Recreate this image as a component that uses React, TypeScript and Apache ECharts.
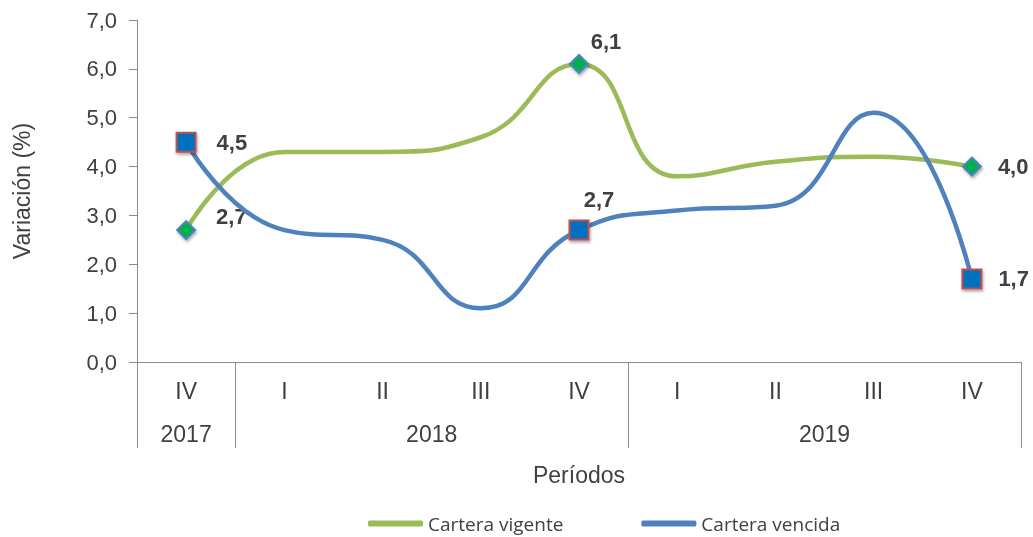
import React, { useEffect, useRef } from 'react';
import * as echarts from 'echarts';

const quarters = ['IV', 'I', 'II', 'III', 'IV', 'I', 'II', 'III', 'IV'];
const yearNames = ['2017', '2018', '2019'];
const quartersPerYear = [1, 4, 4];
const vigente = [2.7, 4.3, 4.3, 4.6, 6.1, 3.8, 4.1, 4.2, 4.0];
const vencida = [4.5, 2.7, 2.5, 1.1, 2.7, 3.1, 3.2, 5.1, 1.7];
const markedIdx = [0, 4, 8];

const TEXT = '#404040';
const AXIS = '#8c8c8c';
const FONT = '"Liberation Sans", Arial, sans-serif';

const fmt = (v: number) => v.toFixed(1).replace('.', ',');

export default function App() {
  const ref = useRef<HTMLDivElement>(null);
  useEffect(() => {
    const chart = echarts.init(ref.current!, null, { renderer: 'svg' });

    const bounds: number[] = [0];
    quartersPerYear.forEach((n) => bounds.push(bounds[bounds.length - 1] + n));
    const centers = yearNames.map((_, i) => (bounds[i] + bounds[i + 1]) / 2);

    const labelStyleV: Record<number, any> = {
      0: { position: 'right', distance: 20, offset: [0, -14] },
      4: { position: 'top', distance: 1, offset: [27, 0] },
      8: { position: 'right', distance: 16 },
    };
    const labelStyleB: Record<number, any> = {
      0: { position: 'right', distance: 20 },
      4: { position: 'top', distance: 9, offset: [20, 0] },
      8: { position: 'right', distance: 16 },
    };
    const shadow = {
      shadowBlur: 3,
      shadowColor: 'rgba(0,0,0,0.35)',
      shadowOffsetX: 1,
      shadowOffsetY: 2,
    };

    const buildData = (vals: number[], symbol: string, size: number, fill: string, border: string, ls: Record<number, any>) =>
      vals.map((v, i) =>
        markedIdx.includes(i)
          ? {
              value: v,
              symbol,
              symbolSize: size,
              itemStyle: { color: fill, borderColor: border, borderWidth: 2, ...shadow },
              label: {
                show: true,
                formatter: (p: any) => fmt(p.value),
                fontFamily: FONT,
                fontWeight: 'bold',
                fontSize: 22,
                color: TEXT,
                ...ls[i],
              },
            }
          : { value: v, symbol: 'none' }
      );

    chart.setOption({
      animation: false,
      grid: { left: 137, right: 12, top: 20, bottom: 175, containLabel: false },
      legend: {
        left: 368,
        top: 514,
        itemWidth: 55,
        itemHeight: 6,
        itemGap: 78,
        icon: 'roundRect',
        padding: 0,
        textStyle: { fontFamily: '"Open Sans", sans-serif', fontSize: 19, color: TEXT },
        data: ['Cartera vigente', 'Cartera vencida'],
      },
      xAxis: [
        {
          type: 'category',
          data: quarters,
          boundaryGap: true,
          axisLine: { lineStyle: { color: AXIS, width: 1 } },
          axisTick: { show: false },
          axisLabel: { margin: 17, fontFamily: FONT, fontSize: 23, color: TEXT, interval: 0 },
        },
        {
          type: 'value',
          min: 0,
          max: bounds[bounds.length - 1],
          position: 'bottom',
          axisLine: { show: false },
          splitLine: { show: false },
          axisTick: {
            show: true,
            customValues: bounds,
            length: 86,
            lineStyle: { color: AXIS, width: 1 },
          },
          axisLabel: {
            show: true,
            customValues: centers,
            margin: 60,
            fontFamily: FONT,
            fontSize: 23,
            color: TEXT,
            formatter: (v: number) => {
              const k = centers.findIndex((c) => Math.abs(c - v) < 1e-6);
              return k >= 0 ? yearNames[k] : '';
            },
          },
          name: 'Períodos',
          nameLocation: 'middle',
          nameGap: 101,
          nameTextStyle: { fontFamily: FONT, fontSize: 23, color: TEXT },
        },
      ],
      yAxis: {
        type: 'value',
        min: 0,
        max: 7,
        interval: 1,
        name: 'Variación (%)',
        nameLocation: 'middle',
        nameGap: 104,
        nameTextStyle: { fontFamily: FONT, fontSize: 23, color: TEXT },
        axisLine: { show: true, lineStyle: { color: AXIS, width: 1 } },
        axisTick: { show: true, length: 8, lineStyle: { color: AXIS } },
        splitLine: { show: false },
        axisLabel: { margin: 20, fontFamily: FONT, fontSize: 22, color: TEXT, formatter: fmt },
      },
      series: [
        {
          name: 'Cartera vigente',
          type: 'line',
          xAxisIndex: 0,
          smooth: 0.5,
          color: '#9bbb59',
          lineStyle: { color: '#9bbb59', width: 4.5 },
          data: buildData(vigente, 'diamond', 18, '#00b050', '#4f81bd', labelStyleV),
          z: 2,
        },
        {
          name: 'Cartera vencida',
          type: 'line',
          xAxisIndex: 0,
          smooth: 0.5,
          color: '#4f81bd',
          lineStyle: { color: '#4f81bd', width: 4.5 },
          data: buildData(vencida, 'rect', 19, '#0070c0', '#c0504d', labelStyleB),
          z: 3,
        },
      ],
    });
    return () => chart.dispose();
  }, []);
  return <div ref={ref} style={{ position: 'fixed', left: 0, top: 0, width: 1033, height: 537 }} />;
}
